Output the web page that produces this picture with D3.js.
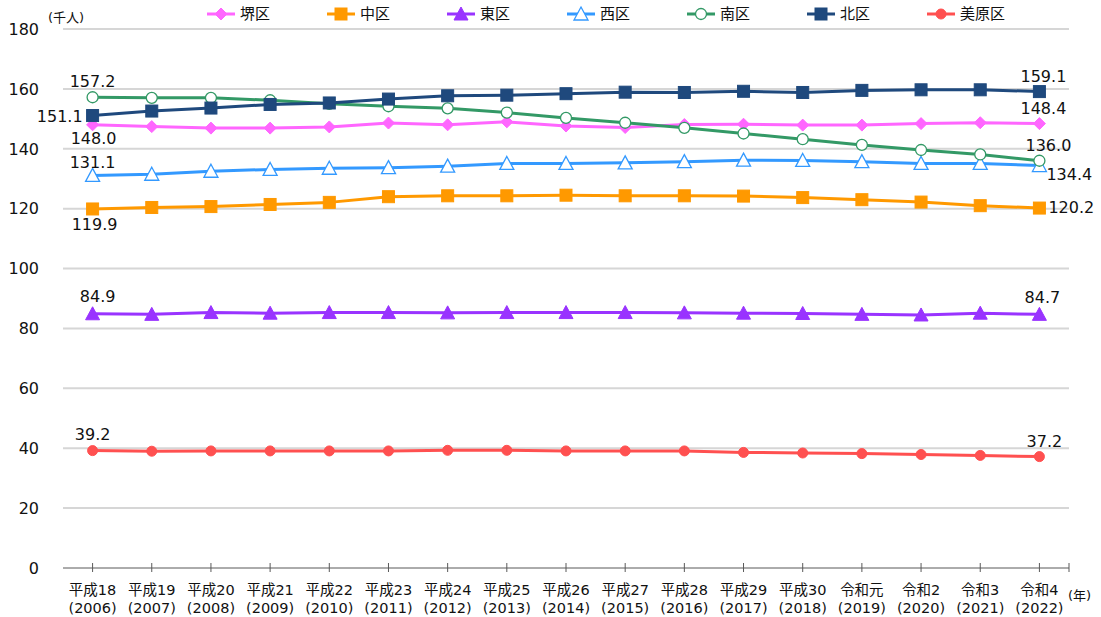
<!DOCTYPE html>
<html>
<head>
<meta charset="utf-8">
<script src="https://cdn.jsdelivr.net/npm/d3@7"></script>
<style>
  html, body { margin: 0; padding: 0; background: #fff; }
  svg { display: block; }
  text { font-family: "DejaVu Sans", "Noto Sans CJK JP", sans-serif; fill: #111; }
</style>
</head>
<body>
<svg id="chart" width="1101" height="617"></svg>
<script>
// ---- data ----
const categories = ["平成18","平成19","平成20","平成21","平成22","平成23","平成24","平成25","平成26","平成27","平成28","平成29","平成30","令和元","令和2","令和3","令和4"];
const years = ["2006","2007","2008","2009","2010","2011","2012","2013","2014","2015","2016","2017","2018","2019","2020","2021","2022"];
const seriesNames = ["堺区","中区","東区","西区","南区","北区","美原区"];
const sakai   = [148.0,147.4,146.9,146.9,147.3,148.6,148.0,149.0,147.6,147.1,148.1,148.2,147.9,147.9,148.4,148.7,148.4];
const naka    = [119.9,120.4,120.7,121.4,122.1,124.0,124.3,124.3,124.5,124.3,124.3,124.2,123.7,123.0,122.2,121.0,120.2];
const higashi = [84.9,84.7,85.3,85.1,85.3,85.3,85.2,85.3,85.3,85.3,85.2,85.1,85.0,84.7,84.5,85.1,84.7];
const nishi   = [131.1,131.5,132.5,133.1,133.5,133.7,134.2,135.1,135.1,135.3,135.7,136.2,136.1,135.7,135.1,135.1,134.4];
const minami  = [157.2,157.0,157.0,156.2,155.0,154.2,153.5,152.1,150.3,148.7,147.0,145.1,143.2,141.3,139.6,138.1,136.0];
const kita    = [151.1,152.6,153.6,154.8,155.3,156.6,157.7,157.9,158.4,158.9,158.8,159.2,158.8,159.5,159.7,159.7,159.1];
const mihara  = [39.2,39.0,39.1,39.1,39.1,39.1,39.3,39.3,39.1,39.1,39.1,38.6,38.4,38.2,37.9,37.6,37.2];
const yTicks  = [0,20,40,60,80,100,120,140,160,180];

const seriesValues = [sakai, naka, higashi, nishi, minami, kita, mihara];

// ---- styles ----
const styles = [
  {color:"#FF66FF", shape:"diamond", fill:true},
  {color:"#FF9900", shape:"square", fill:true},
  {color:"#9933FF", shape:"triangle", fill:true},
  {color:"#3399FF", shape:"triangle", fill:false},
  {color:"#339966", shape:"circle", fill:false},
  {color:"#1F497D", shape:"square", fill:true},
  {color:"#FF5050", shape:"circle", fill:true}
];
// label placement (first / last point): dx, dy, anchor
const labelPos = [
  {first:[1,19,"middle"],  last:[4,-10,"middle"]},
  {first:[2,21,"middle"],  last:[9,5,"start"]},
  {first:[5,-12,"middle"], last:[3,-11,"middle"]},
  {first:[0,-7,"middle"],  last:[7,14,"start"]},
  {first:[0,-10,"middle"], last:[9,-10,"middle"]},
  {first:[-10,6,"end"],    last:[4,-10,"middle"]},
  {first:[0,-11,"middle"], last:[5,-10,"middle"]}
];

const svg = d3.select("#chart");
const x = d3.scalePoint().domain(categories).range([63, 1069]).padding(0.5);
const y = d3.scaleLinear().domain([0, 180]).range([568, 29]);

// gridlines
svg.append("g").selectAll("line").data(yTicks.filter(d => d > 0)).join("line")
  .attr("x1", 63).attr("x2", 1069)
  .attr("y1", d => y(d)).attr("y2", d => y(d))
  .attr("stroke", "#d6d6d6").attr("stroke-width", 2);

// y tick labels
svg.append("g").selectAll("text").data(yTicks).join("text")
  .attr("x", 39).attr("y", d => y(d)).attr("dy", "0.36em")
  .attr("text-anchor", "end").attr("font-size", 16)
  .text(d => d);

svg.append("text").attr("x", 48).attr("y", 22).attr("font-size", 13).text("(千人)");

// x axis
const xAxis = svg.append("g");
xAxis.append("line").attr("x1", 63).attr("x2", 1069).attr("y1", 568).attr("y2", 568)
  .attr("stroke", "#595959").attr("stroke-width", 1);
xAxis.selectAll("line.tick").data(categories).join("line").attr("class","tick")
  .attr("x1", d => x(d)).attr("x2", d => x(d)).attr("y1", 563).attr("y2", 572)
  .attr("stroke", "#595959");
xAxis.append("line").attr("x1", 1069).attr("x2", 1069).attr("y1", 563).attr("y2", 572)
  .attr("stroke", "#595959");
xAxis.selectAll("text.l1").data(categories).join("text").attr("class","l1")
  .attr("x", d => x(d)).attr("y", 595).attr("text-anchor","middle").attr("font-size", 14.5)
  .text(d => d);
xAxis.selectAll("text.l2").data(years).join("text").attr("class","l2")
  .attr("x", (d,i) => x(categories[i])).attr("y", 612.5).attr("text-anchor","middle").attr("font-size", 14.5)
  .text(d => "(" + d + ")");
svg.append("text").attr("x", 1068).attr("y", 600).attr("font-size", 13).text("(年)");

// markers
function marker(g, shape, cx, cy, color, filled) {
  let el;
  if (shape === "circle") {
    el = g.append("circle").attr("cx", cx).attr("cy", cy).attr("r", filled ? 5 : 5.5);
  } else if (shape === "square") {
    el = g.append("rect").attr("x", cx - 6).attr("y", cy - 6).attr("width", 12).attr("height", 12);
  } else if (shape === "diamond") {
    el = g.append("path").attr("d", `M${cx},${cy-6}L${cx+6},${cy}L${cx},${cy+6}L${cx-6},${cy}Z`);
  } else {
    el = g.append("path").attr("d", `M${cx},${cy-7}L${cx+7},${cy+6}L${cx-7},${cy+6}Z`);
  }
  el.attr("fill", filled ? color : "#fff").attr("stroke", color).attr("stroke-width", filled ? 1 : 1.3);
}

const line = d3.line().x((d,i) => x(categories[i])).y(d => y(d));

seriesValues.forEach((vals, si) => {
  const st = styles[si];
  const g = svg.append("g");
  g.append("path").datum(vals).attr("d", line).attr("fill","none")
    .attr("stroke", st.color).attr("stroke-width", 3).attr("stroke-linejoin","round");
  vals.forEach((v, i) => marker(g, st.shape, x(categories[i]), y(v), st.color, st.fill));
});

// data labels on top
seriesValues.forEach((vals, si) => {
  const lp = labelPos[si];
  const n = vals.length;
  [[0, lp.first], [n - 1, lp.last]].forEach(([i, p]) => {
    svg.append("text").attr("x", x(categories[i]) + p[0]).attr("y", y(vals[i]) + p[1])
      .attr("text-anchor", p[2]).attr("font-size", 16)
      .text(vals[i].toFixed(1));
  });
});

// legend
const legend = svg.append("g");
seriesNames.forEach((name, si) => {
  const st = styles[si];
  const lx = 207 + si * 120;
  legend.append("line").attr("x1", lx).attr("x2", lx + 28).attr("y1", 14).attr("y2", 14)
    .attr("stroke", st.color).attr("stroke-width", 3);
  marker(legend, st.shape, lx + 14, 14, st.color, st.fill);
  legend.append("text").attr("x", lx + 33).attr("y", 14).attr("dy","0.36em")
    .attr("font-size", 15).text(name);
});
</script>
</body>
</html>
